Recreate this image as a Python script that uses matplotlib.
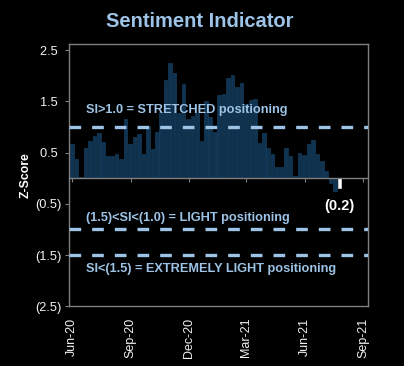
import numpy as np
import pandas as pd
import matplotlib
matplotlib.use("Agg")
import matplotlib.pyplot as plt
import matplotlib.dates as mdates

plt.rcParams['font.family'] = ['Liberation Sans', 'DejaVu Sans']

# weekly sentiment z-score, last point highlighted
zscore = [0.66, 0.38, 0.03, 0.59, 0.73, 0.82, 0.88, 0.71, 0.44, 0.44,
          0.48, 0.37, 1.15, 0.66, 0.80, 0.86, 0.47, 1.02, 0.57, 0.90,
          1.29, 1.91, 2.25, 2.06, 1.27, 1.84, 1.16, 1.22, 1.28, 0.72,
          1.50, 1.19, 0.90, 1.62, 1.64, 1.96, 2.02, 1.77, 1.86, 1.45,
          1.52, 1.55, 0.69, 0.89, 0.58, 0.47, 0.22, 0.22, 0.59, 0.43,
          0.04, 0.50, 0.45, 0.66, 0.74, 0.48, 0.33, 0.14, -0.09, -0.25,
          -0.20]
start_date = "2020-06-01"
last_label = "(0.2)"

levels = [1.0, -1.0, -1.5]
notes = ["SI>1.0 = STRETCHED positioning",
         "(1.5)<SI<(1.0) = LIGHT positioning",
         "SI<(1.5) = EXTREMELY LIGHT positioning"]
note_y = [1.33, -0.77, -1.77]

yticks = [2.5, 1.5, 0.5, -0.5, -1.5, -2.5]
ytick_labels = ["2.5 ", "1.5 ", "0.5 ", "(0.5)", "(1.5)", "(2.5)"]
xticks = ["2020-06-01", "2020-09-01", "2020-12-01", "2021-03-01", "2021-06-01", "2021-09-01"]

dates = pd.date_range(start_date, periods=len(zscore), freq="7D")

navy = "#0f3350"
light = "#9dc3e6"
grey = "#7f7f7f"

fig = plt.figure(figsize=(4.04, 3.66), dpi=100, facecolor="black")
ax = fig.add_axes([0.172, 0.163, 0.738, 0.717], facecolor="black")

colors = [navy] * (len(zscore) - 1) + ["white"]
edges = ["#1a4464"] * (len(zscore) - 1) + ["white"]
ax.bar(dates, zscore, width=5.6, color=colors, edgecolor=edges, linewidth=0.4, zorder=2)

for lv in levels:
    ax.axhline(lv, color=light, lw=2.4, dashes=(3.5, 3.3), zorder=3)

for t, y in zip(notes, note_y):
    ax.text(0.055, y, t, transform=ax.get_yaxis_transform(), color=light,
            fontsize=9.2, fontweight="bold", va="center", ha="left", zorder=4)

ax.text(dates[-1], zscore[-1] - 0.2, last_label, color="white", fontsize=10.5,
        fontweight="bold", ha="center", va="top", zorder=4)

ax.set_ylim(-2.5, 2.62)
ax.set_xlim(pd.Timestamp("2020-05-28"), pd.Timestamp("2021-09-08"))
ax.set_yticks(yticks)
ax.set_yticklabels(ytick_labels)
ax.tick_params(axis="y", colors=grey, labelcolor="#f2f2f2", labelsize=9.2, length=3, width=0.8, pad=3)

# the category axis crosses at zero, labels sit at the bottom
xt = [pd.Timestamp(d) for d in xticks]
ax.spines["bottom"].set_position(("data", 0))
ax.set_xticks(xt)
ax.tick_params(axis="x", colors=grey, labelbottom=False, length=3, width=0.8, direction="out")
for s in ax.spines.values():
    s.set_color(grey)
    s.set_linewidth(1.0)

sec = ax.secondary_xaxis(0.0)
sec.set_xticks(xt)
sec.xaxis.set_major_formatter(mdates.DateFormatter("%b-%y"))
sec.tick_params(axis="x", length=0, labelcolor="#f2f2f2", labelsize=9, pad=8, labelrotation=90)
sec.spines["bottom"].set_color(grey)
sec.spines["bottom"].set_linewidth(1.0)

ax.set_ylabel("Z-Score", color="white", fontsize=8.8, fontweight="bold", labelpad=2)

fig.text(0.495, 0.94, "Sentiment Indicator", color=light, fontsize=14.5,
         fontweight="bold", ha="center", va="center")

fig.savefig("out.png", dpi=100, facecolor="black")
